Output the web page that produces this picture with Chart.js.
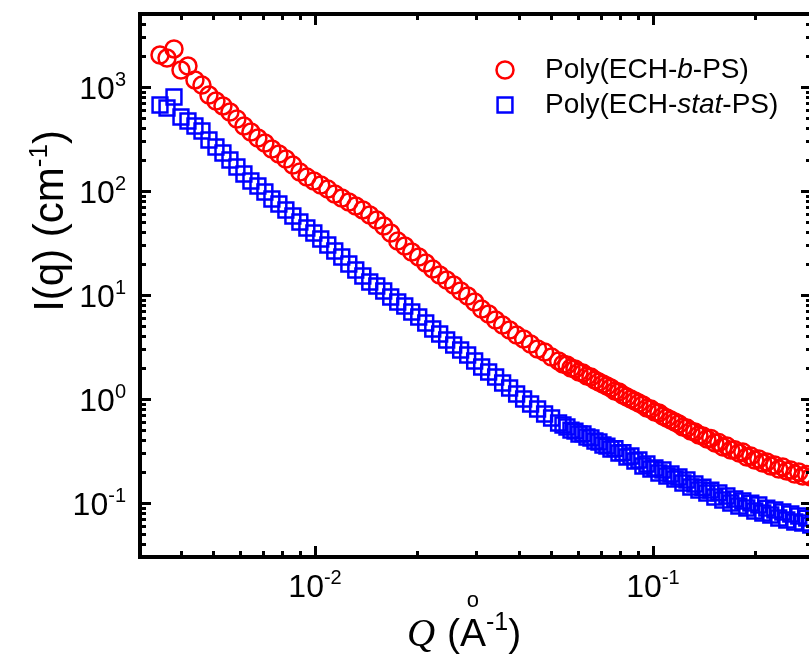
<!DOCTYPE html>
<html>
<head>
<meta charset="utf-8">
<script src="https://cdn.jsdelivr.net/npm/chart.js@4.4.0/dist/chart.umd.min.js"></script>
<style>
  html, body { margin: 0; padding: 0; background: #fff; overflow: hidden; }
  canvas { display: block; }
</style>
</head>
<body>
<canvas id="sansChart" width="830" height="654"></canvas>
<script>
// scattering vector Q (1/Å), same grid for both samples
const qValues = [
  0.003478, 0.003648, 0.003826, 0.004012, 0.004208, 0.004413, 0.004629, 0.004855, 0.005092, 0.005340,
  0.005601, 0.005874, 0.006161, 0.006461, 0.006777, 0.007107, 0.007454, 0.007818, 0.008199, 0.008599,
  0.009019, 0.009459, 0.009920, 0.01040, 0.01091, 0.01144, 0.01200, 0.01259, 0.01320, 0.01385,
  0.01452, 0.01523, 0.01597, 0.01675, 0.01757, 0.01843, 0.01933, 0.02027, 0.02126, 0.02230,
  0.02338, 0.02452, 0.02572, 0.02697, 0.02829, 0.02967, 0.03112, 0.03264, 0.03423, 0.03590,
  0.03765, 0.03949, 0.04142, 0.04344, 0.04556, 0.04778, 0.05011, 0.05256,
  0.05415, 0.05564, 0.05718, 0.05876, 0.06038, 0.06205, 0.06376, 0.06552, 0.06733, 0.06919,
  0.07110, 0.07306, 0.07508, 0.07715, 0.07928, 0.08147, 0.08372, 0.08603, 0.08840, 0.09084,
  0.09335, 0.09593, 0.09858, 0.1013, 0.1041, 0.1070, 0.1099, 0.1130, 0.1161, 0.1193,
  0.1226, 0.1260, 0.1294, 0.1330, 0.1367, 0.1405, 0.1443, 0.1483, 0.1524, 0.1566,
  0.1609, 0.1654, 0.1699, 0.1746, 0.1795, 0.1844, 0.1895, 0.1947, 0.2001, 0.2056,
  0.2113, 0.2171, 0.2231, 0.2293, 0.2356, 0.2421, 0.2488, 0.2556, 0.2627, 0.2699,
  0.2774, 0.2850, 0.2929
];

// I(q) in 1/cm, block copolymer
const blockIntensity = [
  2031, 1900, 2320, 1457, 1592, 1168, 1045, 837.6, 733.6, 656.9,
  575.0, 492.5, 421.7, 369.3, 323.3, 289.4, 253.4, 226.9, 203.1, 177.8,
  152.2, 136.3, 124.8, 114.2, 104.5, 93.6, 85.65, 78.39, 71.76, 65.69,
  58.78, 52.63, 46.07, 39.47, 33.05, 29.59, 25.91, 23.20, 20.31, 17.78,
  15.57, 13.94, 12.48, 10.93, 9.781, 8.564, 7.334, 6.567, 5.750, 5.146,
  4.608, 4.124, 3.776, 3.380, 3.026, 2.831, 2.534, 2.320,
  2.170, 2.123, 1.987, 1.943, 1.818, 1.778, 1.664, 1.627, 1.523, 1.457,
  1.394, 1.334, 1.276, 1.194, 1.168, 1.093, 1.045, 1.000, 0.957, 0.915,
  0.876, 0.819, 0.801, 0.750, 0.734, 0.686, 0.657, 0.628, 0.601, 0.575,
  0.538, 0.526, 0.492, 0.482, 0.451, 0.441, 0.413, 0.418, 0.378, 0.381,
  0.346, 0.353, 0.323, 0.325, 0.303, 0.309, 0.277, 0.283, 0.259, 0.265,
  0.2425, 0.2479, 0.2269, 0.2319, 0.2123, 0.2219, 0.2031, 0.2076, 0.1900, 0.1987,
  0.1818, 0.1885, 0.1778
];

// I(q) in 1/cm, statistical copolymer
const statIntensity = [
  671.3, 628.3, 801.5, 514.6, 471.1, 421.7, 377.6, 309.3, 264.9, 232.0,
  198.7, 170.2, 145.7, 124.8, 111.7, 97.81, 83.76, 74.99, 65.69, 57.50,
  50.33, 44.08, 39.47, 34.55, 30.26, 26.49, 23.20, 19.87, 17.39, 15.23,
  13.34, 12.21, 10.93, 9.568, 8.564, 7.838, 6.862, 6.144, 5.380, 4.711,
  4.217, 3.693, 3.305, 2.959, 2.649, 2.320, 2.031, 1.818, 1.627, 1.425,
  1.276, 1.117, 1.000, 0.895, 0.801, 0.7175, 0.657, 0.588,
  0.5623, 0.538, 0.503, 0.492, 0.461, 0.463, 0.431, 0.422, 0.395, 0.386,
  0.361, 0.353, 0.3305, 0.333, 0.3026, 0.305, 0.277, 0.283, 0.2534, 0.259,
  0.2269, 0.2371, 0.2123, 0.2170, 0.1943, 0.2076, 0.1818, 0.1900, 0.1701, 0.1778,
  0.1557, 0.1664, 0.1425, 0.1523, 0.1334, 0.1418, 0.1248, 0.1330, 0.1142, 0.1252,
  0.1069, 0.1168, 0.1000, 0.1093, 0.0936, 0.1045, 0.0895, 0.0998, 0.0838, 0.0957,
  0.0801, 0.0893, 0.0767, 0.0857, 0.0718, 0.0819, 0.0686, 0.0784, 0.0657, 0.0750,
  0.0642, 0.0716, 0.0614
];

const xRange = [0.003035, 0.2954];
const yRange = [0.03027, 5035];
const xDecades = [-2, -1];          // labelled powers of ten
const yDecades = [-1, 0, 1, 2, 3];

const SANS = '"Liberation Sans", Arial, sans-serif';

const toPoints = ys => qValues.map((q, i) => ({ x: q, y: ys[i] }));

// minor/major tick values for a log axis
function logTicks(lo, hi) {
  const out = [];
  for (let d = Math.floor(Math.log10(lo)); d <= Math.ceil(Math.log10(hi)); d++) {
    for (let m = 1; m <= 9; m++) {
      const v = m * Math.pow(10, d);
      if (v >= lo && v <= hi) out.push({ v, major: m === 1 });
    }
  }
  return out;
}

function line(ctx, x1, y1, x2, y2) {
  ctx.beginPath();
  ctx.moveTo(x1, y1);
  ctx.lineTo(x2, y2);
  ctx.stroke();
}

// "10" with a raised exponent; align is 'right' or 'center'
function drawPower(ctx, exp, x, y, align) {
  const base = '32px ' + SANS, sup = '20px ' + SANS;
  ctx.font = base;
  const wb = ctx.measureText('10').width;
  ctx.font = sup;
  const we = ctx.measureText(exp).width;
  const left = align === 'right' ? x - wb - we : x - (wb + we) / 2;
  ctx.textAlign = 'left';
  ctx.textBaseline = 'alphabetic';
  ctx.font = base;
  ctx.fillText('10', left, y);
  ctx.font = sup;
  ctx.fillText(exp, left + wb, y - 13);
}

// text made of [string, font, raise] runs, drawn left to right
function drawRuns(ctx, runs, x, y) {
  let cx = x;
  runs.forEach(([s, f, dy]) => {
    ctx.font = f;
    ctx.fillText(s, cx, y - (dy || 0));
    cx += ctx.measureText(s).width;
  });
  return cx - x;
}
function runsWidth(ctx, runs) {
  return runs.reduce((w, [s, f]) => { ctx.font = f; return w + ctx.measureText(s).width; }, 0);
}

const framePlugin = {
  id: 'frame',
  afterDraw(chart) {
    const { ctx, chartArea: a, scales: { x, y } } = chart;
    ctx.save();
    ctx.fillStyle = '#000';
    ctx.strokeStyle = '#000';

    // box
    ctx.lineWidth = 4;
    ctx.strokeRect(a.left, a.top, a.right - a.left, a.bottom - a.top);

    // inward ticks on all four sides
    ctx.lineWidth = 3;
    logTicks(xRange[0], xRange[1]).forEach(t => {
      const px = Math.round(x.getPixelForValue(t.v)) + 0.5;
      const len = t.major ? 11 : 6;
      line(ctx, px, a.bottom, px, a.bottom - len);
      line(ctx, px, a.top, px, a.top + len);
    });
    logTicks(yRange[0], yRange[1]).forEach(t => {
      const py = Math.round(y.getPixelForValue(t.v)) + 0.5;
      const len = t.major ? 11 : 6;
      line(ctx, a.left, py, a.left + len, py);
      line(ctx, a.right, py, a.right - len, py);
    });

    // tick labels
    yDecades.forEach(d => {
      drawPower(ctx, String(d), 126, y.getPixelForValue(Math.pow(10, d)) + 12, 'right');
    });
    xDecades.forEach(d => {
      drawPower(ctx, String(d), x.getPixelForValue(Math.pow(10, d)), 597, 'center');
    });

    // y title, rotated
    const yRuns = [['I(q) (cm', '42px ' + SANS], ['-1', '26px ' + SANS, 16], [')', '42px ' + SANS]];
    ctx.save();
    ctx.translate(63, 221);
    ctx.rotate(-Math.PI / 2);
    ctx.textAlign = 'left';
    ctx.textBaseline = 'alphabetic';
    drawRuns(ctx, yRuns, -runsWidth(ctx, yRuns) / 2, 0);
    ctx.restore();

    // x title: italic Q, then (Å^-1) with the ring set high above the A
    ctx.textAlign = 'left';
    ctx.textBaseline = 'alphabetic';
    const xb = 646;
    let cx = 407;
    ctx.font = 'italic 39px "Liberation Serif", "Times New Roman", serif';
    ctx.fillText('Q', cx, xb);
    cx += ctx.measureText('Q ').width + 2;
    ctx.font = '39px ' + SANS;
    ctx.fillText('(', cx, xb);
    cx += ctx.measureText('(').width;
    const wA = ctx.measureText('A').width;
    ctx.fillText('A', cx, xb);
    ctx.font = '22px ' + SANS;
    ctx.textAlign = 'center';
    ctx.fillText('o', cx + wA / 2, xb - 39);
    ctx.textAlign = 'left';
    cx += wA;
    ctx.font = '25px ' + SANS;
    ctx.fillText('-1', cx, xb - 16);
    cx += ctx.measureText('-1').width;
    ctx.font = '39px ' + SANS;
    ctx.fillText(')', cx, xb);

    // legend
    const legendFont = '28px ' + SANS, legendItalic = 'italic 28px ' + SANS;
    const legendRows = [
      { ds: chart.data.datasets[0], y: 70, runs: [['Poly(ECH-', legendFont], ['b', legendItalic], ['-PS)', legendFont]] },
      { ds: chart.data.datasets[1], y: 105, runs: [['Poly(ECH-', legendFont], ['stat', legendItalic], ['-PS)', legendFont]] }
    ];
    legendRows.forEach(row => {
      ctx.strokeStyle = row.ds.pointBorderColor;
      ctx.fillStyle = 'rgba(0,0,0,0)';
      ctx.lineWidth = row.ds.pointBorderWidth;
      Chart.helpers.drawPoint(ctx, {
        pointStyle: row.ds.pointStyle, radius: row.ds.pointRadius, rotation: 0, borderWidth: row.ds.pointBorderWidth
      }, 505, row.y);
      ctx.fillStyle = '#000';
      ctx.textBaseline = 'middle';
      drawRuns(ctx, row.runs, 545, row.y);
    });

    ctx.restore();
  }
};

new Chart(document.getElementById('sansChart').getContext('2d'), {
  type: 'scatter',
  data: {
    datasets: [
      {
        label: 'Poly(ECH-b-PS)',
        data: toPoints(blockIntensity),
        pointStyle: 'circle',
        pointRadius: 8.5,
        pointBorderWidth: 2.5,
        pointBorderColor: '#ff0000',
        pointBackgroundColor: 'rgba(0,0,0,0)'
      },
      {
        label: 'Poly(ECH-stat-PS)',
        data: toPoints(statIntensity),
        pointStyle: 'rect',
        pointRadius: 10.5,
        pointBorderWidth: 2.5,
        pointBorderColor: '#0000ff',
        pointBackgroundColor: 'rgba(0,0,0,0)'
      }
    ]
  },
  options: {
    responsive: false,
    animation: false,
    devicePixelRatio: 1,
    layout: { padding: { top: 14, right: 18, left: 0, bottom: 0 } },
    plugins: { legend: { display: false }, tooltip: { enabled: false } },
    scales: {
      x: {
        type: 'logarithmic',
        min: xRange[0],
        max: xRange[1],
        grid: { display: false },
        border: { display: false },
        ticks: { display: false },
        afterFit: s => { s.height = 97; }
      },
      y: {
        type: 'logarithmic',
        min: yRange[0],
        max: yRange[1],
        grid: { display: false },
        border: { display: false },
        ticks: { display: false },
        afterFit: s => { s.width = 140; }
      }
    }
  },
  plugins: [framePlugin]
});
</script>
</body>
</html>
